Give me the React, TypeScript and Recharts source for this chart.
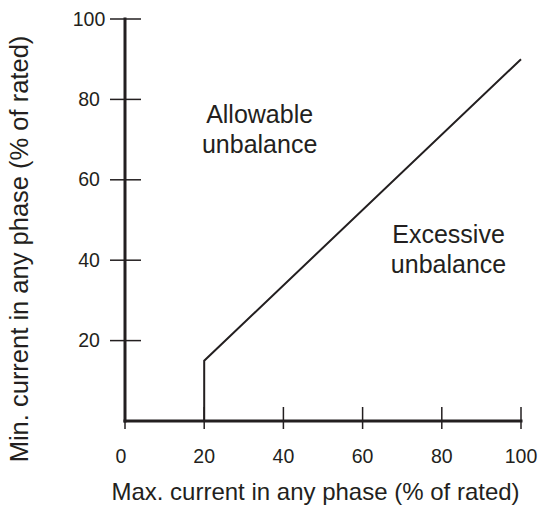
import React from 'react';
import { LineChart, Line, XAxis, YAxis, ReferenceDot } from 'recharts';

const INK = '#231f20';
const FONT = '"Liberation Sans", Arial, Helvetica, sans-serif';

// boundary between allowable and excessive unbalance
const boundaryMax = [20, 20, 100];
const boundaryMin = [0, 15, 90];

const xTicks = [0, 20, 40, 60, 80, 100];
const yTicks = [20, 40, 60, 80, 100];

const regionNames = [
  { x: 34, y: 74.1, lines: ['Allowable', 'unbalance'] },
  { x: 81.7, y: 44.3, lines: ['Excessive', 'unbalance'] },
];

const data = boundaryMax.map((x, i) => ({ x, y: boundaryMin[i] }));

const XTick = (props: any) => {
  const { x, y, payload } = props;
  const shift = payload.value === 0 ? -4 : 0;
  return (
    <g>
      <line x1={x} x2={x} y1={y - 14} y2={y + 8} stroke={INK} strokeWidth={1.5} />
      <text x={x + shift} y={y + 42} textAnchor="middle" fontSize={19.5} fill={INK} fontFamily={FONT}>
        {payload.value}
      </text>
    </g>
  );
};

const YTick = (props: any) => {
  const { x, y, payload } = props;
  return (
    <g>
      <line x1={x - 15} x2={x + 16} y1={y} y2={y} stroke={INK} strokeWidth={1.5} />
      <text x={x - 36} y={y + 6.5} textAnchor="middle" fontSize={19.5} fill={INK} fontFamily={FONT}>
        {payload.value}
      </text>
    </g>
  );
};

const RegionText = (lines: string[]) => (props: any) => {
  const { cx, cy } = props;
  return (
    <text x={cx} y={cy} textAnchor="middle" fontSize={25} fill={INK} fontFamily={FONT}>
      {lines.map((t, i) => (
        <tspan key={t + i} x={cx} dy={i === 0 ? 0 : 30}>
          {t}
        </tspan>
      ))}
    </text>
  );
};

export default function App() {
  return (
    <div style={{ position: 'absolute', left: 0, top: 0, background: '#fff' }}>
      <LineChart width={541} height={506} data={data} margin={{ top: 19, right: 20, left: 0, bottom: 0 }}>
        <XAxis
          type="number"
          dataKey="x"
          domain={[0, 100]}
          ticks={xTicks}
          tickSize={0}
          tickMargin={0}
          height={85}
          axisLine={{ stroke: INK, strokeWidth: 3, strokeLinecap: 'square' }}
          tickLine={false}
          tick={<XTick />}
          interval={0}
          label={{
            content: (p: any) => {
              const vb = p.viewBox;
              return (
                <text
                  x={vb.x + vb.width / 2 - 7.5}
                  y={vb.y + 79}
                  textAnchor="middle"
                  fontSize={24}
                  fill={INK}
                  fontFamily={FONT}
                >
                  Max. current in any phase (% of rated)
                </text>
              );
            },
          }}
        />
        <YAxis
          type="number"
          domain={[0, 100]}
          ticks={yTicks}
          tickSize={0}
          tickMargin={0}
          width={125}
          axisLine={{ stroke: INK, strokeWidth: 3, strokeLinecap: 'square' }}
          tickLine={false}
          tick={<YTick />}
          interval={0}
          label={{
            content: (p: any) => {
              const vb = p.viewBox;
              const cx = 28;
              const cy = vb.y + vb.height / 2 + 29;
              return (
                <text
                  x={cx}
                  y={cy}
                  textAnchor="middle"
                  fontSize={25.5}
                  fill={INK}
                  fontFamily={FONT}
                  transform={`rotate(-90, ${cx}, ${cy})`}
                >
                  Min. current in any phase (% of rated)
                </text>
              );
            },
          }}
        />
        <Line
          type="linear"
          dataKey="y"
          stroke={INK}
          strokeWidth={2}
          dot={false}
          activeDot={false}
          isAnimationActive={false}
        />
        {regionNames.map((r) => (
          <ReferenceDot key={r.lines[0]} x={r.x} y={r.y} r={0} shape={RegionText(r.lines)} />
        ))}
      </LineChart>
    </div>
  );
}
